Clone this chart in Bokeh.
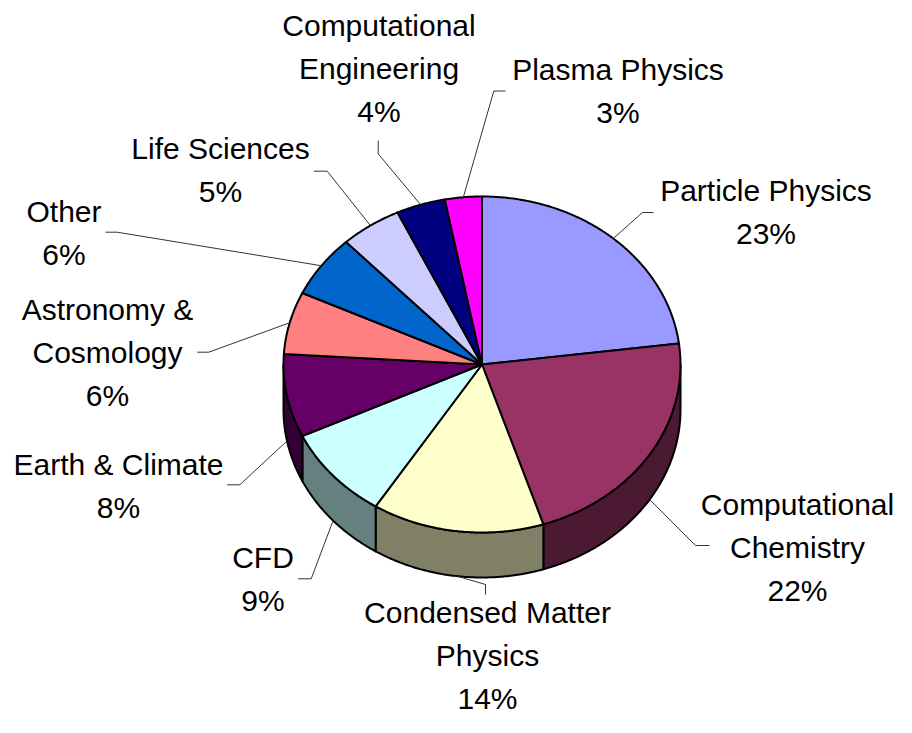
import numpy as np
from bokeh.plotting import figure
from bokeh.models import Range1d
from bokeh.embed import file_html
from bokeh.resources import INLINE
from bokeh.core.properties import value

# ---------------- data ----------------
categories = ["Particle Physics", "Computational Chemistry", "Condensed Matter Physics",
              "CFD", "Earth & Climate", "Astronomy & Cosmology", "Other",
              "Life Sciences", "Computational Engineering", "Plasma Physics"]
shares = [23, 22, 14, 9, 8, 6, 6, 5, 4, 3]
label_lines = [["Particle Physics"], ["Computational", "Chemistry"],
               ["Condensed Matter", "Physics"], ["CFD"], ["Earth & Climate"],
               ["Astronomy &", "Cosmology"], ["Other"], ["Life Sciences"],
               ["Computational", "Engineering"], ["Plasma Physics"]]

# ---------------- styles / layout ----------------
top_colors = ["#9999FF", "#993366", "#FFFFCC", "#CCFFFF", "#660066",
              "#FF8080", "#0066CC", "#CCCCFF", "#000080", "#FF00FF"]
side_colors = ["#4C4C80", "#4C1933", "#808066", "#668080", "#330033",
               "#804040", "#003366", "#666680", "#000040", "#800080"]
# label centre x and first visual baseline y (pixels)
label_x = [765.5, 797, 487, 262.5, 118, 107, 63.5, 220, 378.5, 617.5]
label_y = [201, 515, 623, 568, 475, 320, 222, 159, 36, 80]
# leader elbow and end (pixels)
elbow_x = [642, 695, 485, 310.7, 239.3, 208.3, 116.7, 326.7, 377.7, 493.3]
elbow_y = [212, 545, 584, 578.3, 484.3, 351.7, 231.7, 170.7, 153.3, 90.5]
end_x = [653, 709, 485, 297.7, 226.7, 196.7, 105, 313.3, 377.7, 505]
end_y = [212, 545, 594, 578.3, 484.3, 351.7, 231.7, 170.7, 140, 90.5]
LINE_H = 43
TEXT_DY = -11  # renderer draws "alphabetic" text this much lower
CX, CY, RX, RY, DEPTH = 481.5, 364.0, 198.5, 168.0, 45.0

W, H = 896, 717
p = figure(width=W, height=H, output_backend="svg", toolbar_location=None,
           x_range=Range1d(0, W), y_range=Range1d(H, 0),
           x_axis_type=None, y_axis_type=None, min_border=0,
           outline_line_color=None, background_fill_color="white",
           border_fill_color="white")
p.grid.visible = False


def ell(theta_deg, dy=0.0):
    t = np.radians(theta_deg)
    return CX + RX * np.sin(t), CY - RY * np.cos(t) + dy


total = float(sum(shares))
cum = np.concatenate([[0.0], np.cumsum(shares)]) / total * 360.0

side_xs, side_ys, side_c = [], [], []
top_xs, top_ys = [], []
for i in range(len(shares)):
    a, b = cum[i], cum[i + 1]
    n = max(8, int((b - a) * 2))
    th = np.linspace(a, b, n)
    ax, ay = ell(th)
    top_xs.append(np.concatenate([[CX], ax, [CX]]).tolist())
    top_ys.append(np.concatenate([[CY], ay, [CY]]).tolist())
    lo, hi = max(a, 90.0), min(b, 270.0)
    if lo < hi:
        ths = np.linspace(lo, hi, max(8, int((hi - lo) * 2)))
        tx, ty = ell(ths)
        bx, by = ell(ths[::-1], DEPTH)
        side_xs.append(np.concatenate([tx, bx]).tolist())
        side_ys.append(np.concatenate([ty, by]).tolist())
        side_c.append(side_colors[i])

p.patches(side_xs, side_ys, fill_color=side_c, line_color="black",
          line_width=2, line_join="round")
p.patches(top_xs, top_ys, fill_color=top_colors, line_color="black",
          line_width=2, line_join="round")

# leader lines
lx, ly = [], []
for i in range(len(shares)):
    mid = (cum[i] + cum[i + 1]) / 2.0
    front = np.cos(np.radians(mid)) < 0
    sx, sy = ell(mid, DEPTH if front else 0.0)
    lx.append([float(sx), elbow_x[i], end_x[i]])
    ly.append([float(sy), elbow_y[i], end_y[i]])
p.multi_line(lx, ly, line_color="#333333", line_width=1)

# labels
tx, ty, tt = [], [], []
for i in range(len(shares)):
    lines = label_lines[i] + ["%d%%" % shares[i]]
    for k, s in enumerate(lines):
        tx.append(label_x[i])
        ty.append(label_y[i] + k * LINE_H + TEXT_DY)
        tt.append(s)
p.text(tx, ty, text=tt, text_font=value("Liberation Sans"),
       text_font_size="30px", text_align="center",
       text_baseline="alphabetic", text_color="black")

open("out.html", "w").write(file_html(p, INLINE))
